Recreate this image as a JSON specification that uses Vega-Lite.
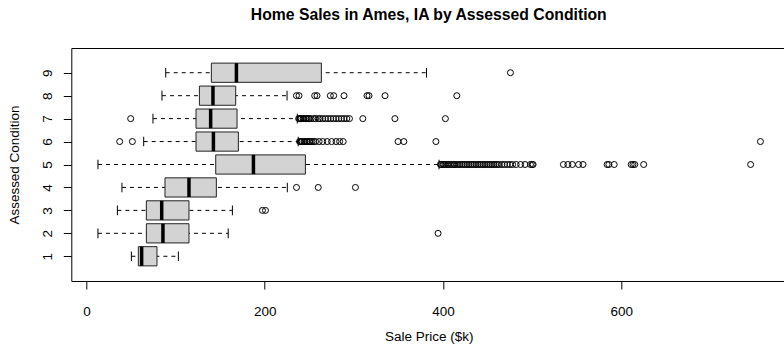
{
  "$schema": "https://vega.github.io/schema/vega-lite/v6.json",
  "autosize": {"type": "none"},
  "padding": {"left": 71.3, "top": 48, "right": 0, "bottom": 64},
  "width": 715,
  "height": 233,
  "title": {
    "text": "Home Sales in Ames, IA by Assessed Condition",
    "font": "Liberation Sans",
    "fontSize": 15.75,
    "fontWeight": "bold",
    "color": "black",
    "anchor": "middle",
    "frame": "group",
    "offset": 24
  },
  "config": {
    "view": {"stroke": "black", "strokeWidth": 1},
    "axis": {
      "grid": false,
      "domain": false,
      "tickColor": "black",
      "tickSize": 8,
      "labelColor": "black",
      "labelFont": "Liberation Sans",
      "labelFontSize": 13.5,
      "labelOverlap": false,
      "titleColor": "black",
      "titleFont": "Liberation Sans",
      "titleFontSize": 13.5,
      "titleFontWeight": "normal"
    }
  },
  "datasets": {
    "boxes": [
      {"condition": 1, "lo": 50.4, "q1": 58.2, "med": 61.9, "q3": 79.1, "hi": 103.1},
      {"condition": 2, "lo": 12.9, "q1": 67.2, "med": 85.8, "q3": 115.0, "hi": 159.0},
      {"condition": 3, "lo": 34.7, "q1": 67.2, "med": 84.4, "q3": 115.0, "hi": 163.7},
      {"condition": 4, "lo": 39.8, "q1": 88.1, "med": 115.0, "q3": 145.7, "hi": 225.3},
      {"condition": 5, "lo": 12.9, "q1": 145.0, "med": 187.3, "q3": 245.6, "hi": 395.5},
      {"condition": 6, "lo": 64.2, "q1": 122.9, "med": 142.4, "q3": 170.4, "hi": 237.5},
      {"condition": 7, "lo": 74.6, "q1": 122.9, "med": 139.3, "q3": 168.9, "hi": 236.5},
      {"condition": 8, "lo": 84.7, "q1": 126.7, "med": 141.9, "q3": 167.4, "hi": 225.0},
      {"condition": 9, "lo": 88.9, "q1": 140.1, "med": 168.2, "q3": 263.5, "hi": 381.4}
    ],
    "outliers": [
      {"condition": 2, "price": 394.4},
      {"condition": 3, "price": 197.4},
      {"condition": 3, "price": 200.8},
      {"condition": 4, "price": 235.6},
      {"condition": 4, "price": 260.0},
      {"condition": 4, "price": 301.7},
      {"condition": 5, "price": 397}, {"condition": 5, "price": 398}, {"condition": 5, "price": 400},
      {"condition": 5, "price": 401}, {"condition": 5, "price": 403}, {"condition": 5, "price": 405},
      {"condition": 5, "price": 406}, {"condition": 5, "price": 408}, {"condition": 5, "price": 410},
      {"condition": 5, "price": 412}, {"condition": 5, "price": 413}, {"condition": 5, "price": 415},
      {"condition": 5, "price": 417}, {"condition": 5, "price": 419}, {"condition": 5, "price": 421},
      {"condition": 5, "price": 423}, {"condition": 5, "price": 425}, {"condition": 5, "price": 427},
      {"condition": 5, "price": 429}, {"condition": 5, "price": 431}, {"condition": 5, "price": 433},
      {"condition": 5, "price": 435}, {"condition": 5, "price": 437}, {"condition": 5, "price": 439},
      {"condition": 5, "price": 441}, {"condition": 5, "price": 443}, {"condition": 5, "price": 445},
      {"condition": 5, "price": 447}, {"condition": 5, "price": 449}, {"condition": 5, "price": 451},
      {"condition": 5, "price": 453}, {"condition": 5, "price": 455}, {"condition": 5, "price": 457},
      {"condition": 5, "price": 459}, {"condition": 5, "price": 461}, {"condition": 5, "price": 463},
      {"condition": 5, "price": 466}, {"condition": 5, "price": 469}, {"condition": 5, "price": 472},
      {"condition": 5, "price": 475}, {"condition": 5, "price": 478}, {"condition": 5, "price": 482},
      {"condition": 5, "price": 487}, {"condition": 5, "price": 492}, {"condition": 5, "price": 498},
      {"condition": 5, "price": 500}, {"condition": 5, "price": 501},
      {"condition": 5, "price": 535}, {"condition": 5, "price": 540}, {"condition": 5, "price": 545},
      {"condition": 5, "price": 552}, {"condition": 5, "price": 557},
      {"condition": 5, "price": 584}, {"condition": 5, "price": 586}, {"condition": 5, "price": 592},
      {"condition": 5, "price": 611}, {"condition": 5, "price": 613}, {"condition": 5, "price": 615},
      {"condition": 5, "price": 625},
      {"condition": 5, "price": 745},
      {"condition": 6, "price": 37.3}, {"condition": 6, "price": 51.5},
      {"condition": 6, "price": 239}, {"condition": 6, "price": 240}, {"condition": 6, "price": 241},
      {"condition": 6, "price": 242}, {"condition": 6, "price": 244}, {"condition": 6, "price": 245},
      {"condition": 6, "price": 247}, {"condition": 6, "price": 248}, {"condition": 6, "price": 250},
      {"condition": 6, "price": 251}, {"condition": 6, "price": 253}, {"condition": 6, "price": 255},
      {"condition": 6, "price": 257}, {"condition": 6, "price": 261}, {"condition": 6, "price": 265},
      {"condition": 6, "price": 270}, {"condition": 6, "price": 275}, {"condition": 6, "price": 280},
      {"condition": 6, "price": 284}, {"condition": 6, "price": 288},
      {"condition": 6, "price": 349.5}, {"condition": 6, "price": 356}, {"condition": 6, "price": 392},
      {"condition": 6, "price": 756},
      {"condition": 7, "price": 49.6},
      {"condition": 7, "price": 238}, {"condition": 7, "price": 239}, {"condition": 7, "price": 240},
      {"condition": 7, "price": 241}, {"condition": 7, "price": 243}, {"condition": 7, "price": 244},
      {"condition": 7, "price": 246}, {"condition": 7, "price": 247}, {"condition": 7, "price": 249},
      {"condition": 7, "price": 250}, {"condition": 7, "price": 252}, {"condition": 7, "price": 255},
      {"condition": 7, "price": 257}, {"condition": 7, "price": 260}, {"condition": 7, "price": 262},
      {"condition": 7, "price": 265}, {"condition": 7, "price": 268}, {"condition": 7, "price": 271},
      {"condition": 7, "price": 274}, {"condition": 7, "price": 277}, {"condition": 7, "price": 280},
      {"condition": 7, "price": 283}, {"condition": 7, "price": 286}, {"condition": 7, "price": 289},
      {"condition": 7, "price": 292}, {"condition": 7, "price": 295},
      {"condition": 7, "price": 310}, {"condition": 7, "price": 346}, {"condition": 7, "price": 402.6},
      {"condition": 8, "price": 235.5}, {"condition": 8, "price": 238.4},
      {"condition": 8, "price": 256.0}, {"condition": 8, "price": 258.6},
      {"condition": 8, "price": 273.6}, {"condition": 8, "price": 277.3},
      {"condition": 8, "price": 288.9}, {"condition": 8, "price": 314.7}, {"condition": 8, "price": 316.9},
      {"condition": 8, "price": 334.9}, {"condition": 8, "price": 415.4},
      {"condition": 9, "price": 475.6}
    ]
  },
  "encoding": {
    "y": {
      "field": "condition", "type": "quantitative", "title": "Assessed Condition",
      "scale": {"domain": [0.14, 9.86], "nice": false, "zero": false},
      "axis": {
        "values": [1, 2, 3, 4, 5, 6, 7, 8, 9],
        "tickCount": 9,
        "labelOverlap": false,
        "labelAngle": -90, "labelAlign": "center", "labelBaseline": "bottom",
        "labelPadding": 9, "titlePadding": 19
      }
    }
  },
  "layer": [
    {
      "data": {"name": "boxes"},
      "mark": {"type": "rule", "color": "black", "strokeWidth": 1, "strokeDash": [4, 4]},
      "encoding": {
        "x": {
          "field": "lo", "type": "quantitative", "title": "Sale Price ($k)",
          "scale": {"domain": [-17, 785], "nice": false, "zero": false},
          "axis": {"values": [0, 200, 400, 600], "labelPadding": 16, "titlePadding": 11}
        },
        "x2": {"field": "hi"}
      }
    },
    {
      "data": {"name": "boxes"},
      "mark": {"type": "tick", "orient": "vertical", "color": "black", "opacity": 1, "size": 9.6, "thickness": 1},
      "encoding": {
        "x": {"field": "lo", "type": "quantitative", "title": "Sale Price ($k)"}
      }
    },
    {
      "data": {"name": "boxes"},
      "mark": {"type": "tick", "orient": "vertical", "color": "black", "opacity": 1, "size": 9.6, "thickness": 1},
      "encoding": {
        "x": {"field": "hi", "type": "quantitative", "title": "Sale Price ($k)"}
      }
    },
    {
      "data": {"name": "boxes"},
      "mark": {"type": "bar", "orient": "horizontal", "size": 19.2, "fill": "#D3D3D3", "stroke": "#222222", "strokeWidth": 1, "opacity": 1},
      "encoding": {
        "x": {"field": "q1", "type": "quantitative", "title": "Sale Price ($k)"},
        "x2": {"field": "q3"}
      }
    },
    {
      "data": {"name": "boxes"},
      "mark": {"type": "tick", "orient": "vertical", "color": "black", "opacity": 1, "size": 19.2, "thickness": 3.5},
      "encoding": {
        "x": {"field": "med", "type": "quantitative", "title": "Sale Price ($k)"}
      }
    },
    {
      "data": {"name": "outliers"},
      "mark": {"type": "point", "shape": "circle", "filled": false, "size": 36, "stroke": "black", "strokeWidth": 1, "opacity": 1},
      "encoding": {
        "x": {"field": "price", "type": "quantitative", "title": "Sale Price ($k)"}
      }
    }
  ]
}
